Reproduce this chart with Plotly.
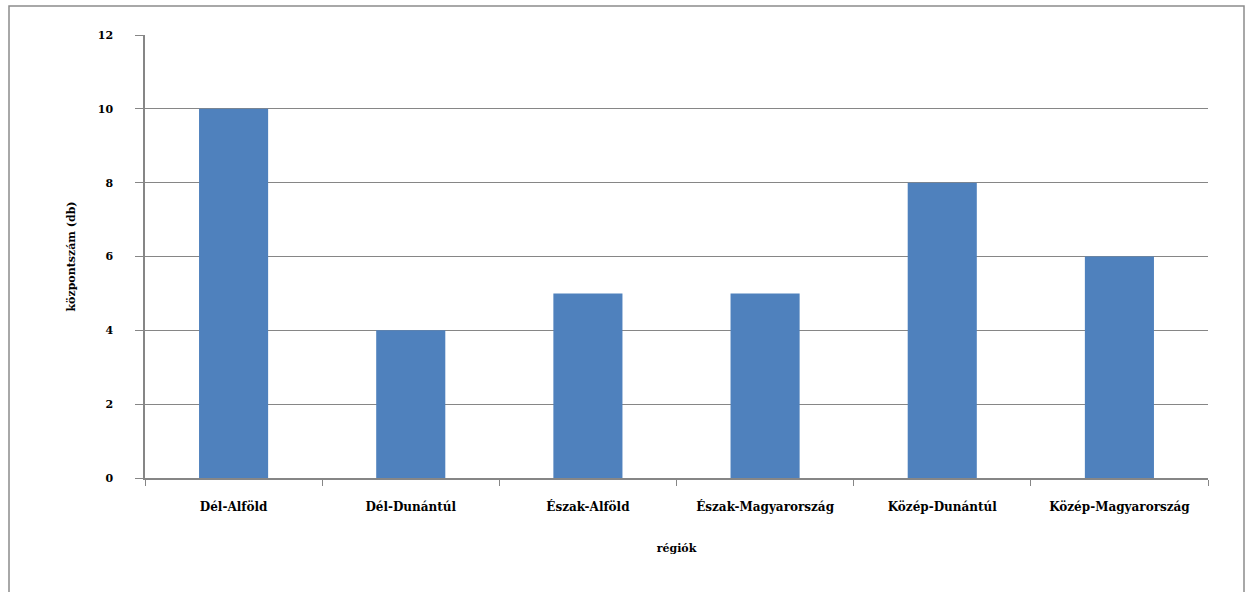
import plotly.graph_objects as go

regions = ["Dél-Alföld", "Dél-Dunántúl", "Észak-Alföld",
           "Észak-Magyarország", "Közép-Dunántúl", "Közép-Magyarország"]
center_counts = [10, 4, 5, 5, 8, 6]
y_ticks = [0, 2, 4, 6, 8, 10, 12]

W, H = 1246, 592
L, R, T, B = 145, 38, 35, 114
pw, ph = W - L - R, H - T - B

font_family = "DejaVu Serif"

fig = go.Figure(go.Bar(
    x=regions,
    y=center_counts,
    marker=dict(color="#4F81BD", line=dict(width=0)),
))

# outer chart frame
fig.add_shape(
    type="rect", xref="paper", yref="paper",
    x0=(9 - L) / pw, x1=(1244 - L) / pw,
    y0=-(H + 10 - (T + ph)) / ph, y1=(T + ph - 6) / ph,
    line=dict(color="#8c8c8c", width=1.5), fillcolor="rgba(0,0,0,0)",
    layer="below",
)

fig.update_layout(
    width=W, height=H,
    margin=dict(l=L, r=R, t=T, b=B),
    paper_bgcolor="white", plot_bgcolor="white",
    bargap=0.61,
    showlegend=False,
    font=dict(family=font_family, color="black"),
    xaxis=dict(
        title=dict(text="<b>régiók</b>", font=dict(size=11), standoff=31),
        tickfont=dict(size=12),
        tickmode="array", tickvals=regions,
        ticktext=[f"<b>{r}</b>" for r in regions],
        tickson="boundaries", ticks="outside", ticklen=6,
        tickcolor="#868686", showline=True, linecolor="#868686", linewidth=1.5,
        showgrid=False, ticklabelstandoff=17,
    ),
    yaxis=dict(
        title=dict(text="<b>központszám (db)</b>", font=dict(size=11), standoff=20),
        range=[0, 12], tickvals=y_ticks,
        ticktext=[f"<b>{v}</b>" for v in y_ticks],
        tickfont=dict(size=11),
        ticks="outside", ticklen=8, tickcolor="#868686",
        showline=True, linecolor="#868686", linewidth=1.5,
        showgrid=True, gridcolor="#868686", gridwidth=1.2,
        zeroline=False, ticklabelstandoff=20,
    ),
)

fig.write_html("out.html")
